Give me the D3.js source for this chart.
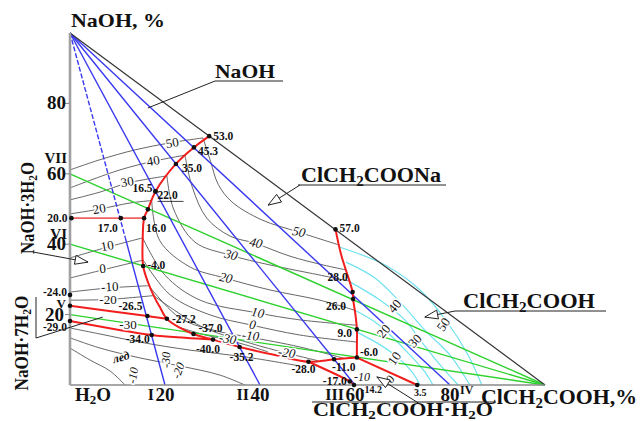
<!DOCTYPE html>
<html>
<head>
<meta charset="utf-8">
<script src="https://cdn.jsdelivr.net/npm/d3@7"></script>
<style>
body { margin: 0; background: #fff; }
text { font-family: "Liberation Serif", "Times New Roman", serif; font-weight: bold; fill: #111; }
</style>
</head>
<body>
<script>
// composition in mass %: [ClCH2COOH, NaOH]
var sectionsNaOH = [20, 40, 60, 80];          // rays I..IV from the NaOH corner
var romanNaOH = ["I", "II", "III", "IV"];
var sectionsAcid = [60, 40, 20];              // rays VII, VI, V from the acid corner
var romanAcid = ["VII", "VI", "V"];
var ticksLeft = [80, 60, 40, 20];

// phase boundaries (red)
var redMain  = [[29.3,70.7],[26.1,67.5],[22.3,62.8],[18.0,55.0],[16.4,49.9],[15.6,47.4],[15.3,41.2],[15.4,33.8],[16.5,28.9],[17.9,24.6],[18.9,22.2],[20.4,18.8],[23.2,16.2],[26.0,14.5],[30.1,12.9]];
var redHydr  = [[0,47.4],[10.7,47.4],[15.6,47.4]];
var redEutA  = [[0,22.5],[16.3,19.6],[20.4,18.8]];
var redEutC  = [[0,18.2],[17.2,14.2],[24.2,13.4],[30.1,12.9]];
var redLow   = [[30.1,12.9],[35.7,10.8],[43.2,8.5],[50.2,6.6],[55.6,7.3],[60.4,7.8]];
var redIce   = [[50.2,6.6],[58.9,1.0],[59.8,0]];
var redAcid  = [[60.4,7.8],[73.1,0]];
var redSalt  = [[55.9,44.2],[57.1,36.9],[59.5,26.4],[59.6,24.4],[60.1,19.9],[60.4,15.8],[60.4,11.4],[60.4,7.8]];

// invariant points with temperature, C
var points = [[29.3,70.7,"53.0"],[26.1,67.5,"45.3"],[22.3,62.8,"35.0"],[18.0,55.0,"22.0"],[18.0,55.0,"16.5"],
  [16.4,49.9,""],[15.6,47.4,"16.0"],[10.7,47.4,"17.0"],[0.3,47.4,"20.0"],[15.4,33.8,"-4.0"],
  [16.3,19.6,"-26.5"],[20.4,18.8,"-27.2"],[26.0,14.5,"-37.0"],[30.1,12.9,"-40.0"],[17.2,14.2,"-34.0"],
  [35.7,10.8,"-35.2"],[50.2,6.6,"-28.0"],[55.6,7.3,"-11.0"],[58.9,1.0,"-17.0"],[59.8,0,"-14.2"],
  [60.4,7.8,"-6.0"],[60.4,15.8,"9.0"],[59.6,24.4,"26.0"],[59.5,26.4,"28.0"],[55.9,44.2,"57.0"],
  [73.1,0,"3.5"],[0,25.6,"-24.0"],[0,18.2,"-29.0"],[0,22.5,""]];

// isotherms, hydrate field (left of the red curve)
var isoLeftT = ["50","40","30","20","10","0","-10","-20"];
var isoLeft = [
  [[0,61.1],[6.3,64.0],[13.7,66.8],[21.1,68.8],[28.0,70.2]],
  [[0,56.0],[10.5,61.1],[17.7,63.6],[24.2,65.3]],
  [[0,52.6],[6.3,54.8],[12.2,57.4],[20.4,59.4]],
  [[0,48.6],[6.3,50.0],[12.6,51.7],[17.2,52.4]],
  [[0,36.1],[8.0,39.2],[15.3,41.8]],
  [[0,30.4],[6.9,32.7],[15.4,35.5]],
  [[0,26.4],[8.4,27.6],[16.6,28.2]],
  [[0,24.1],[8.0,24.3],[17.6,25.4]]
];
// isotherms, ClCH2COONa field
var isoSaltT = ["50","40","30","20","10","0","-10","-20","-30"];
var isoSalt = [
  [[28.0,70.2],[29.6,63.5],[31.2,57.0],[34.1,52.0],[40.4,46.9],[48.0,43.5],[56.6,39.8]],
  [[24.2,65.3],[25.8,56.0],[28.8,47.4],[33.7,42.3],[38.9,40.3],[46.3,36.6],[53.3,34.1],[58.1,32.7]],
  [[20.4,59.4],[21.8,50.0],[26.3,40.6],[33.7,36.9],[42.1,34.1],[50.5,31.8],[58.9,29.5]],
  [[17.2,52.4],[18.9,41.0],[25.3,33.5],[32.6,30.4],[42.1,27.0],[52.6,24.1],[59.8,21.3]],
  [[15.3,41.8],[20.0,31.2],[27.4,24.1],[39.4,20.5],[48.4,18.5],[60.2,17.0]],
  [[15.4,35.5],[21.1,25.6],[29.5,19.9],[38.3,17.0],[48.4,14.2],[60.4,12.2]],
  [[16.6,28.2],[23.2,19.0],[31.6,15.1],[37.9,13.6],[48.4,10.8],[57.9,7.5]],
  [[17.6,25.4],[27.4,16.8],[37.9,11.9],[45.5,9.1],[52.2,6.9]],
  [[22.7,16.5],[28.5,14.2],[33.1,12.8],[38.0,11.0],[41.7,9.4]]
];
// isotherms, ice field
var isoIceT = ["-30","-20","-10"];
var isoIce = [
  [[0,16.2],[6.3,14.5],[14.7,12.2],[25.3,9.9],[36.8,8.0],[48.4,5.4]],
  [[0,13.4],[6.3,10.5],[14.7,7.7],[23.2,5.4],[31.6,2.8],[36.8,0]],
  [[0,10.5],[4.2,7.1],[8.4,4.0],[11.6,0]]
];
// isotherms, ClCH2COOH field (cyan)
var isoAcidT = ["50","40","30","20","10"];
var isoAcid = [
  [[56.7,39.2],[66.3,34.1],[73.7,27.0],[79.4,17.9],[83.8,8.5],[86.7,0]],
  [[58.1,34.9],[64.2,30.4],[69.1,24.1],[74.7,15.6],[80.0,8.5],[84.2,0]],
  [[58.9,29.3],[65.3,24.1],[70.5,18.5],[73.7,12.8],[77.9,5.7],[81.7,0]],
  [[59.9,21.3],[64.2,17.9],[67.4,14.2],[71.6,8.5],[74.7,3.7],[76.4,0]],
  [[60.3,15.1],[65.3,11.4],[69.1,7.7],[72.0,3.7],[73.7,0]]
];

function drawDiagram() {
  var width = 641, height = 421;
  var svg = d3.select("body").append("svg").attr("width", width).attr("height", height);

  var x = d3.scaleLinear().domain([0, 100]).range([70, 545]),
      y = d3.scaleLinear().domain([0, 100]).range([385, 33]);

  var curve = d3.line().x(function(d){ return x(d[0]); }).y(function(d){ return y(d[1]); })
                .curve(d3.curveCatmullRom.alpha(0.5));
  var straight = d3.line().x(function(d){ return x(d[0]); }).y(function(d){ return y(d[1]); });

  function rich(t, str, size) {
    var parts = str.split(/(_\d)/).filter(function(s){ return s.length; });
    var sub = false;
    parts.forEach(function(p) {
      if (p[0] == "_") {
        t.append("tspan").attr("font-size", size * 0.68).attr("dy", size * 0.18).text(p.slice(1));
        sub = true;
      } else {
        var ts = t.append("tspan").text(p);
        if (sub) { ts.attr("dy", -size * 0.18); sub = false; }
      }
    });
    return t;
  }
  function label(px, py, str, size, opt) {
    opt = opt || {};
    var t = svg.append("text").attr("x", px).attr("y", py).attr("font-size", size)
               .attr("text-anchor", opt.anchor || "start");
    if (opt.rotate) t.attr("transform", "rotate(" + opt.rotate + "," + px + "," + py + ")");
    if (opt.italic) t.attr("font-style", "italic");
    if (opt.weight) t.style("font-weight", opt.weight);
    if (opt.len) t.attr("textLength", opt.len).attr("lengthAdjust", "spacingAndGlyphs");
    if (opt.halo) t.attr("stroke", "#fff").attr("stroke-width", 3).attr("paint-order", "stroke");
    return rich(t, str, size);
  }
  function arrowHead(x1, y1, x2, y2) {
    var a = Math.atan2(y2 - y1, x2 - x1), L = 13, w = 4.5;
    var bx = x2 - L * Math.cos(a), by = y2 - L * Math.sin(a);
    var pts = [[x2, y2], [bx + w * Math.sin(a), by - w * Math.cos(a)], [bx - w * Math.sin(a), by + w * Math.cos(a)]];
    svg.append("path").attr("d", "M" + pts.join("L") + "Z")
       .attr("fill", "#fff").attr("stroke", "#222").attr("stroke-width", 1);
  }
  function leader(x1, y1, x2, y2, head) {
    svg.append("line").attr("x1", x1).attr("y1", y1).attr("x2", x2).attr("y2", y2)
       .attr("stroke", "#222").attr("stroke-width", 1);
    if (head) arrowHead(x1, y1, x2, y2);
  }

  // isotherms
  var gIso = svg.append("g").attr("fill", "none").attr("stroke", "#555").attr("stroke-width", 0.9);
  gIso.selectAll(".l").data(isoLeft).enter().append("path").attr("d", curve);
  gIso.selectAll(".s").data(isoSalt).enter().append("path").attr("d", curve);
  gIso.selectAll(".i").data(isoIce).enter().append("path").attr("d", curve);
  svg.append("g").attr("fill", "none").attr("stroke", "#6fe3ef").attr("stroke-width", 1.2)
     .selectAll("path").data(isoAcid).enter().append("path").attr("d", curve);

  // sections from the acid corner (green)
  svg.append("g").attr("stroke", "#2fd12f").attr("stroke-width", 1.4)
     .selectAll("path").data(sectionsAcid).enter().append("path")
     .attr("d", function(d){ return straight([[0, d], [100, 0]]); });

  // sections from the NaOH corner (blue)
  var gB = svg.append("g").attr("stroke", "#3838f0").attr("stroke-width", 1.4).attr("fill", "none");
  sectionsNaOH.forEach(function(d, i) {
    if (i == 0) {
      var k = 0.58;
      gB.append("path").attr("d", straight([[0, 100], [d * k, 100 * (1 - k)]])).attr("stroke-dasharray", "5,2");
      gB.append("path").attr("d", straight([[d * k, 100 * (1 - k)], [d, 0]]));
    } else {
      gB.append("path").attr("d", straight([[0, 100], [d, 0]]));
    }
  });

  // triangle
  svg.append("path").attr("d", straight([[0, 100], [100, 0]])).attr("stroke", "#333").attr("stroke-width", 1.2);
  svg.append("path").attr("d", straight([[0, 0], [100, 0]])).attr("stroke", "#8a8a8a").attr("stroke-width", 1.6);
  svg.append("path").attr("d", straight([[0, 0], [0, 100]])).attr("stroke", "#a0a0a0").attr("stroke-width", 2.6);

  // red boundaries
  var gR = svg.append("g").attr("fill", "none").attr("stroke", "#f21d1d").attr("stroke-width", 2);
  [redMain, redEutA, redEutC, redLow, redIce, redAcid, redSalt].forEach(function(c) {
    gR.append("path").attr("d", curve(c));
  });
  gR.append("path").attr("d", straight(redHydr)).attr("stroke", "#f06060").attr("stroke-width", 1.6);

  // points
  svg.append("g").selectAll("circle").data(points).enter().append("circle")
     .attr("cx", function(d){ return x(d[0]); }).attr("cy", function(d){ return y(d[1]); })
     .attr("r", 2.3).attr("fill", "#111");

  // point labels: [dx, dy, anchor]
  var place = {"53.0":[4,4,"start"],"45.3":[4,8,"start"],"35.0":[6,8,"start"],"22.0":[2,8,"start"],"16.5":[-3,1,"end"],
    "16.0":[2,14,"start"],"17.0":[-3,14,"end"],"20.0":[-4,4,"end"],"-4.0":[4,3,"start"],"-26.5":[-5,-6,"end"],
    "-27.2":[5,4,"start"],"-37.0":[5,-2,"start"],"-40.0":[7,13,"end"],"-34.0":[-2,8,"end"],"-35.2":[-10,14,"start"],
    "-28.0":[-5,11,"middle"],"-11.0":[-2,12,"start"],"-17.0":[-3,4,"end"],"-14.2":[7,8,"start"],"-6.0":[3,-2,"start"],
    "9.0":[-5,8,"end"],"26.0":[-7,11,"end"],"28.0":[-5,-11,"end"],"57.0":[4,3,"start"],"3.5":[3,11,"middle"],
    "-24.0":[-3,1,"end"],"-29.0":[-3,10,"end"]};
  points.forEach(function(d) {
    if (!d[2]) return;
    var p = place[d[2]];
    var sz = (d[2] == "-14.2" || d[2] == "3.5") ? 10 : 11.5;
    label(x(d[0]) + p[0], y(d[1]) + p[1], d[2], sz, {anchor: p[2]});
  });
  svg.append("line").attr("x1", x(18.0) + 2).attr("x2", x(18.0) + 28)
     .attr("y1", y(55.0) + 10).attr("y2", y(55.0) + 10).attr("stroke", "#111").attr("stroke-width", 0.8);

  // isotherm labels
  var posLeft = [[173,147,-10],[154,165,-10],[128,186,-10],[100,213,-10],[108,250,-10],[103,273,-5],[110,291,-3],[108,304,0]];
  isoLeftT.forEach(function(t, i) {
    var p = posLeft[i];
    label(p[0], p[1], t, 13, {anchor: "middle", rotate: p[2], weight: "normal", halo: true});
  });
  label(128, 329, "-30", 13, {anchor: "middle", weight: "normal", halo: true});
  var posSalt = [[298,236,12],[255,247,12],[230,259,14],[225,282,12],[257,317,10],[252,329,8],[250,340,6],[286,357,8],[227,343,10]];
  isoSaltT.forEach(function(t, i) {
    var p = posSalt[i];
    label(p[0], p[1], t, 13, {anchor: "middle", rotate: p[2], italic: true, weight: "normal", halo: true});
  });
  var posIce = [[170,360,-88],[182,372,-70],[137,376,-80]];
  isoIceT.forEach(function(t, i) {
    var p = posIce[i];
    label(p[0], p[1], t, 12, {anchor: "middle", rotate: p[2], italic: true, weight: "normal", halo: true});
  });
  label(122, 361, "лед", 12, {anchor: "middle", rotate: -15, italic: true, halo: true});
  var posAcid = [[447,327,-55],[398,309,-50],[418,344,-45],[387,334,-50],[398,361,-55]];
  isoAcidT.forEach(function(t, i) {
    var p = posAcid[i];
    label(p[0], p[1], t, 13, {anchor: "middle", rotate: p[2], weight: "normal", halo: true});
  });
  label(393, 382, "0", 12, {anchor: "middle", rotate: -45, weight: "normal", halo: true});
  label(362, 381, "-10", 12, {anchor: "middle", italic: true, weight: "normal", halo: true});

  // axis ticks and labels
  ticksLeft.forEach(function(v) {
    svg.append("line").attr("x1", x(0) - 5).attr("x2", x(0)).attr("y1", y(v)).attr("y2", y(v))
       .attr("stroke", "#888").attr("stroke-width", 1);
  });
  label(66, y(80) + 6, "80", 19, {anchor: "end"});
  label(66, y(60) + 6, "60", 19, {anchor: "end"});
  label(66, y(40) + 6, "40", 19, {anchor: "end"});
  label(64, y(20) + 6, "20", 19, {anchor: "end"});
  var romanDy = [-11, -5, -7];
  romanAcid.forEach(function(r, i) {
    var v = sectionsAcid[i];
    label(i == 2 ? 66 : 67, y(v) + romanDy[i], r, i == 2 ? 13 : 15, {anchor: "end"});
  });
  sectionsNaOH.forEach(function(v, i) {
    label(x(v), 401, String(v), 19, {anchor: "middle"});
    if (i < 3) label(x(v) - 11, 400, romanNaOH[i], 16, {anchor: "end"});
    else label(x(v) + 10, 394, romanNaOH[i], 12, {anchor: "start"});
  });
  label(x(0) + 5, 401, "H_2O", 19, {});

  // titles and phase names
  label(71, 27, "NaOH, %", 19, {len: 94});
  label(481, 404, "ClCH_2COOH,%", 20, {len: 156});
  label(313, 416, "ClCH_2COOH·H_2O", 19, {len: 180});
  svg.append("line").attr("x1", 312).attr("x2", 496).attr("y1", 402).attr("y2", 402).attr("stroke", "#222");

  label(215, 78, "NaOH", 19, {len: 60});
  svg.append("line").attr("x1", 215).attr("x2", 283).attr("y1", 81).attr("y2", 81).attr("stroke", "#222");
  leader(215, 81, x(16.4), y(78.7), false);

  label(301, 182, "ClCH_2COONa", 20, {len: 140});
  svg.append("line").attr("x1", 298).attr("x2", 446).attr("y1", 185).attr("y2", 185).attr("stroke", "#222");
  leader(300, 185, x(41.7), y(51.1), true);

  label(463, 308, "ClCH_2COOH", 20, {len: 132});
  svg.append("line").attr("x1", 455).attr("x2", 606).attr("y1", 311).attr("y2", 311).attr("stroke", "#222");
  leader(455, 311, x(74.7), y(19.3), true);

  leader(420, 404, x(64.6), y(2.3), true);

  // hydrate names on the left
  label(34, 208, "NaOH·3H_2O", 18, {anchor: "middle", rotate: -90, len: 92});
  leader(33, 252, x(3.8), y(34.9), true);
  label(28, 343, "NaOH·7H_2O", 18, {anchor: "middle", rotate: -90, len: 95});
  svg.append("line").attr("x1", 36).attr("x2", 36).attr("y1", 297).attr("y2", 338).attr("stroke", "#222");
  leader(36, 338, x(6.9), y(19.3), false);
}

drawDiagram();
</script>
</body>
</html>
